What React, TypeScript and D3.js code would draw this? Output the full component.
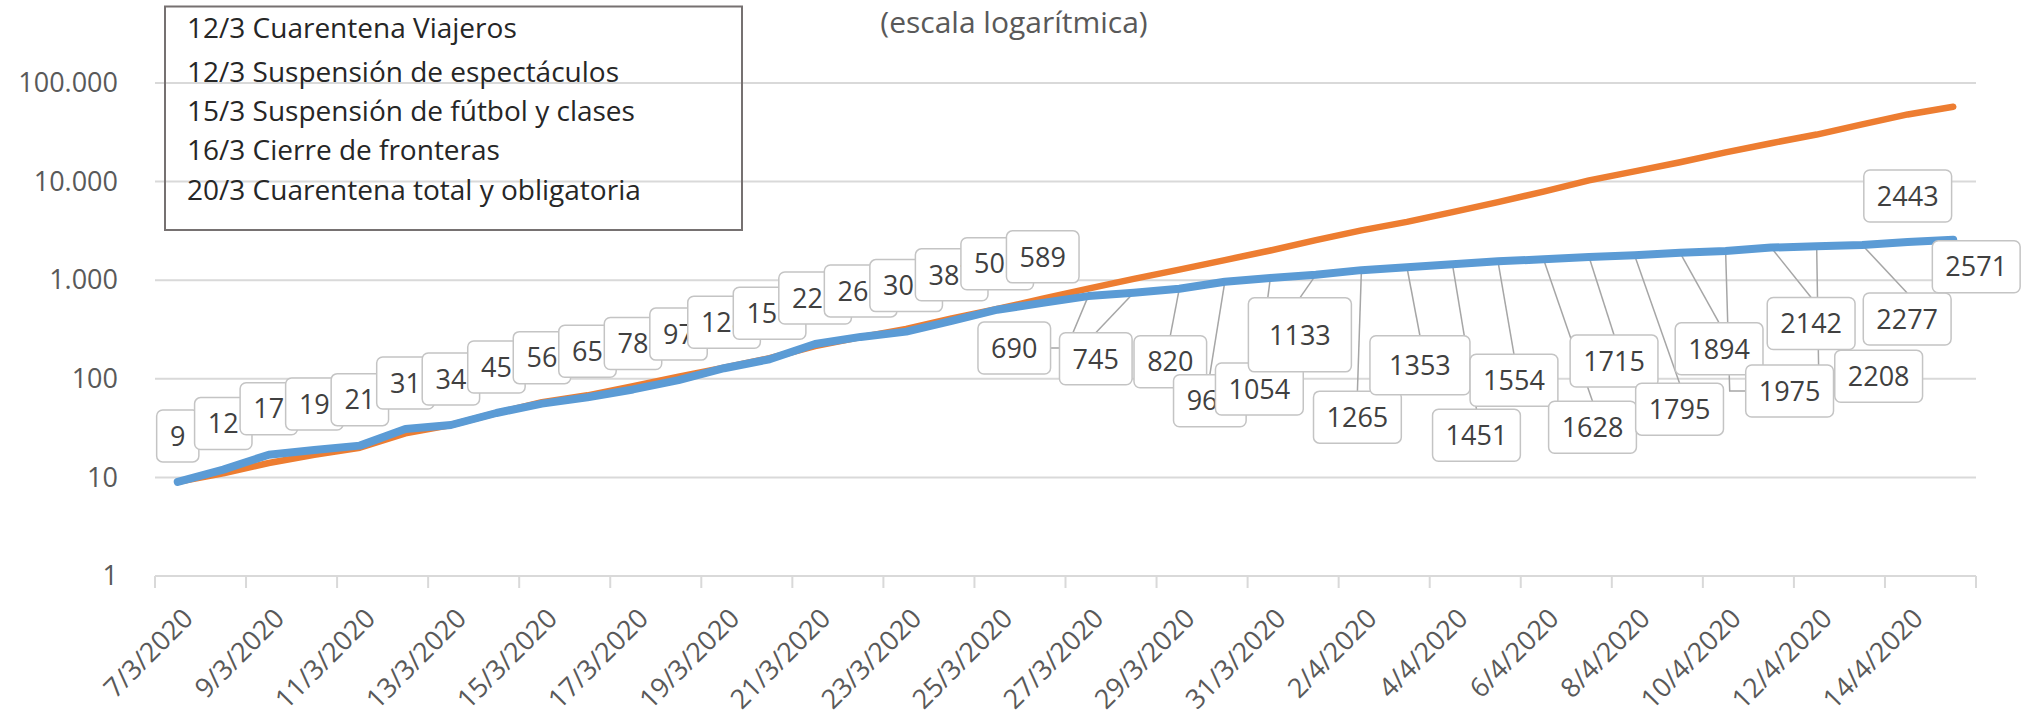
import React, { useEffect, useRef } from 'react';
import * as d3 from 'd3';

// categorias (un dia por punto)
const fechas = [
  '7/3/2020', '8/3/2020', '9/3/2020', '10/3/2020', '11/3/2020', '12/3/2020', '13/3/2020', '14/3/2020',
  '15/3/2020', '16/3/2020', '17/3/2020', '18/3/2020', '19/3/2020', '20/3/2020', '21/3/2020', '22/3/2020',
  '23/3/2020', '24/3/2020', '25/3/2020', '26/3/2020', '27/3/2020', '28/3/2020', '29/3/2020', '30/3/2020',
  '31/3/2020', '1/4/2020', '2/4/2020', '3/4/2020', '4/4/2020', '5/4/2020', '6/4/2020', '7/4/2020',
  '8/4/2020', '9/4/2020', '10/4/2020', '11/4/2020', '12/4/2020', '13/4/2020', '14/4/2020', '15/4/2020',
];

// casos confirmados (serie azul, con etiquetas)
const casos = [
  9, 12, 17, 19, 21, 31, 34, 45, 56, 65, 78, 97, 128, 158, 225, 266, 301, 387, 502, 589,
  690, 745, 820, 966, 1054, 1133, 1265, 1353, 1451, 1554, 1628, 1715, 1795, 1894, 1975, 2142,
  2208, 2277, 2443, 2571,
];

// serie naranja
const comparacion = [
  9, 11, 14, 17, 20, 28, 34, 45, 58, 68, 84, 105, 130, 162, 215, 265, 320, 410, 510, 650,
  820, 1030, 1280, 1600, 2000, 2550, 3200, 3900, 4900, 6200, 7900, 10300, 12700, 15700, 19800, 24500,
  30000, 38000, 48000, 57500,
];

const medidas = [
  '12/3 Cuarentena Viajeros',
  '12/3 Suspensión de espectáculos',
  '15/3 Suspensión de fútbol y clases',
  '16/3 Cierre de fronteras',
  '20/3 Cuarentena total y obligatoria',
];

const yTicks = [1, 10, 100, 1000, 10000, 100000];

const titulo = '(escala logarítmica)';

// posicion de cada etiqueta respecto a su punto: [dx, dy, linea guia, ancho?, alto?]
type Layout = [number, number, string, number?, number?];
const labelLayout: Layout[] = [
  [0, -46, 'n'], [0, -46, 'n'], [0, -46, 'n'], [0, -46, 'n'], [0, -46, 'n'],
  [0, -46, 'n'], [0, -46, 'n'], [0, -46, 'n'], [0, -46, 'n'], [0, -46, 'n'],
  [0, -46, 'n'], [0, -46, 'n'], [0, -46, 'n'], [0, -46, 'n'], [0, -46, 'n'],
  [0, -46, 'n'], [0, -46, 'n'], [0, -46, 'n'], [0, -46, 'n'], [0, -46, 'n'],
  [-74, 52, 'r'], [-38, 66, 't'], [-9, 73, 't'], [-15, 119, 't'], [-11, 111, 't'],
  [-16, 60, 't', 103, 74], [-4, 147, 't'], [13, 98, 't', 100, 59], [24, 171, 't'], [16, 119, 't'],
  [49, 168, 't'], [25, 104, 't'], [45, 154, 't'], [39, 96, 't'], [64, 140, 'l'],
  [40, 76, 't'], [62, 130, 'l'], [45, 74, 't'], [0, -46, 'n'], [23, 27, 'n'],
];

const W = 2028;
const H = 721;
const plot = { left: 155, right: 1976, top: 83, bottom: 576 };

const azul = '#5B9BD5';
const naranja = '#ED7D31';
const gris = '#D9D9D9';
const texto = '#595959';

const fmt = d3.formatLocale({ decimal: ',', thousands: '.', grouping: [3], currency: ['$', ''] }).format(',d');

function App() {
  const ref = useRef<SVGSVGElement>(null);

  useEffect(() => {
    document.body.style.margin = '0';
    document.body.style.overflow = 'hidden';

    const svg = d3.select(ref.current);
    svg.selectAll('*').remove();

    const x = d3.scaleBand<number>()
      .domain(d3.range(fechas.length))
      .range([plot.left, plot.right]);
    const cx = (i: number) => (x(i) as number) + x.bandwidth() / 2;

    const y = d3.scaleLog()
      .domain([1, 100000])
      .range([plot.bottom, plot.top]);

    // lineas de division
    svg.append('g')
      .selectAll('line')
      .data(yTicks.slice(1))
      .join('line')
      .attr('x1', plot.left)
      .attr('x2', plot.right)
      .attr('y1', d => y(d))
      .attr('y2', d => y(d))
      .attr('stroke', gris)
      .attr('stroke-width', 2);

    // eje x
    const ejeX = svg.append('g');
    ejeX.append('line')
      .attr('x1', plot.left)
      .attr('x2', plot.right)
      .attr('y1', y(1))
      .attr('y2', y(1))
      .attr('stroke', gris)
      .attr('stroke-width', 2);

    const bordes = d3.range(0, fechas.length + 1, 2)
      .map(i => (i < fechas.length ? (x(i) as number) : plot.right));
    ejeX.selectAll('line.tick')
      .data(bordes)
      .join('line')
      .attr('class', 'tick')
      .attr('x1', d => d)
      .attr('x2', d => d)
      .attr('y1', y(1))
      .attr('y2', y(1) + 12)
      .attr('stroke', gris)
      .attr('stroke-width', 2);

    ejeX.selectAll('text')
      .data(d3.range(0, fechas.length, 2))
      .join('text')
      .attr('transform', i => `translate(${cx(i) + 17},${y(1) + 44}) rotate(-45)`)
      .attr('text-anchor', 'end')
      .attr('font-size', 27)
      .attr('fill', texto)
      .text(i => fechas[i]);

    // eje y
    const ejeY = svg.append('g')
      .attr('transform', 'translate(118,0)')
      .call(d3.axisLeft(y).tickValues(yTicks).tickFormat(d => fmt(d as number)).tickSize(0).tickPadding(0));
    ejeY.select('.domain').remove();
    ejeY.selectAll('text')
      .attr('font-size', 27)
      .attr('font-family', 'Open Sans')
      .attr('fill', texto);

    // lineas guia de las etiquetas
    const caja = (i: number) => {
      const [dx, dy, guia, w, h] = labelLayout[i];
      const digitos = String(casos[i]).length;
      const bw = w ?? digitos * 15.2 + 27;
      const bh = h ?? 52;
      return { x: cx(i) + dx, y: y(casos[i]) + dy, w: bw, h: bh, guia };
    };

    const guias = svg.append('g');
    casos.forEach((v, i) => {
      const b = caja(i);
      const px = cx(i);
      const py = y(v);
      let pts: [number, number][] = [];
      if (b.guia === 't') pts = [[px, py], [b.x, b.y - b.h / 2]];
      if (b.guia === 'l') pts = [[px, py], [b.x - b.w / 2 - 16, b.y], [b.x - b.w / 2, b.y]];
      if (b.guia === 'r') pts = [[px, py], [b.x + b.w / 2 + 16, b.y], [b.x + b.w / 2, b.y]];
      if (pts.length) {
        guias.append('path')
          .attr('d', d3.line()(pts))
          .attr('fill', 'none')
          .attr('stroke', '#A6A6A6')
          .attr('stroke-width', 1.5);
      }
    });

    const linea = d3.line<number>()
      .x((d, i) => cx(i))
      .y(d => y(d));

    svg.append('path')
      .datum(comparacion)
      .attr('fill', 'none')
      .attr('stroke', naranja)
      .attr('stroke-width', 6.5)
      .attr('stroke-linecap', 'round')
      .attr('stroke-linejoin', 'round')
      .attr('d', linea);

    svg.append('path')
      .datum(casos)
      .attr('fill', 'none')
      .attr('stroke', azul)
      .attr('stroke-width', 8)
      .attr('stroke-linecap', 'round')
      .attr('stroke-linejoin', 'round')
      .attr('d', linea);

    // etiquetas de datos
    const etiquetas = svg.append('g');
    casos.forEach((v, i) => {
      const b = caja(i);
      const g = etiquetas.append('g');
      g.append('rect')
        .attr('x', b.x - b.w / 2)
        .attr('y', b.y - b.h / 2)
        .attr('width', b.w)
        .attr('height', b.h)
        .attr('rx', 6)
        .attr('fill', '#fff')
        .attr('stroke', '#C4C4C4')
        .attr('stroke-width', 1.5);
      g.append('text')
        .attr('x', b.x)
        .attr('y', b.y)
        .attr('dy', '0.36em')
        .attr('text-anchor', 'middle')
        .attr('font-size', 27)
        .attr('fill', '#404040')
        .text(v);
    });

    // titulo
    svg.append('text')
      .attr('x', 1014)
      .attr('y', 33)
      .attr('text-anchor', 'middle')
      .attr('font-size', 30)
      .attr('fill', texto)
      .text(titulo);

    // recuadro de medidas
    const leyenda = svg.append('g');
    leyenda.append('rect')
      .attr('x', 165)
      .attr('y', 6.5)
      .attr('width', 577)
      .attr('height', 223.5)
      .attr('fill', 'none')
      .attr('stroke', '#767171')
      .attr('stroke-width', 2);
    const baselines = [38, 81.5, 121, 160, 199.5];
    leyenda.selectAll('text')
      .data(medidas)
      .join('text')
      .attr('x', 187)
      .attr('y', (d, i) => baselines[i])
      .attr('font-size', 28)
      .attr('fill', '#262626')
      .text(d => d);
  }, []);

  return (
    <svg ref={ref} width={W} height={H}
         style={{ position: 'absolute', left: 0, top: 0, background: '#fff', fontFamily: 'Open Sans' }}>
    </svg>
  );
}

export default App;
